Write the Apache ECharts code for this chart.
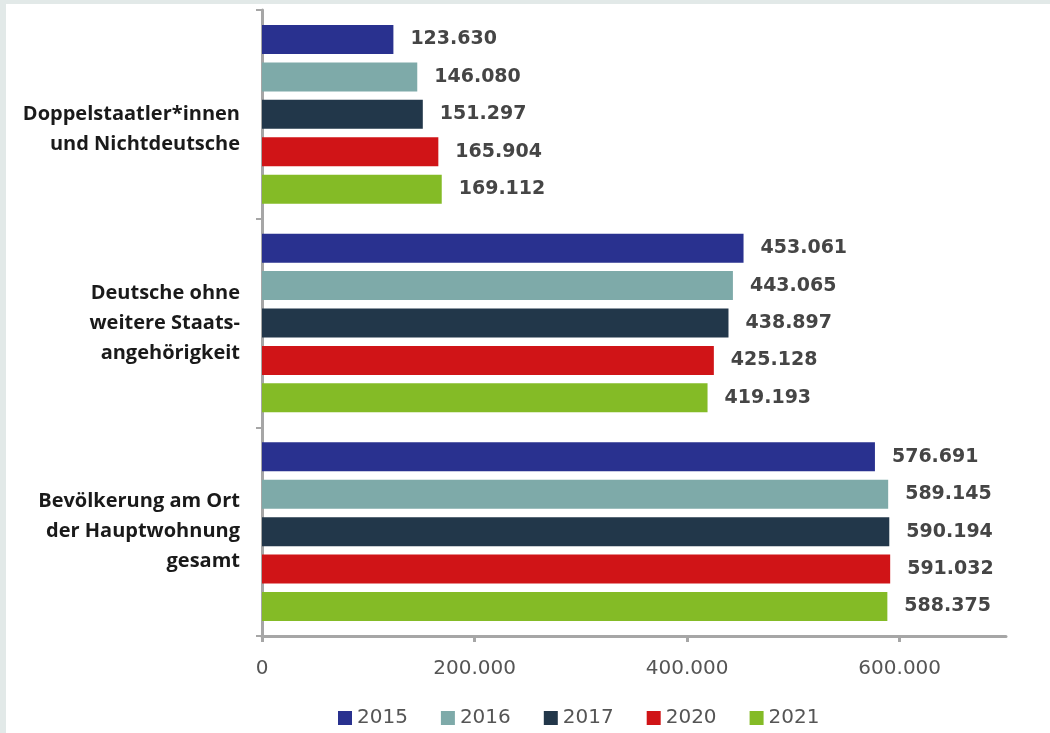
<!DOCTYPE html>
<html>
<head>
<meta charset="utf-8">
<script src="https://cdn.jsdelivr.net/npm/echarts@6/dist/echarts.min.js"></script>
<style>
html, body { margin: 0; padding: 0; background: #e2e9e8; }
#wrap { width: 1050px; height: 733px; box-sizing: border-box; border-top: 4px solid #e2e9e8; border-left: 6px solid #e2e9e8; }
#chart { width: 1044px; height: 729px; background: #fff; }
</style>
</head>
<body>
<div id="wrap"><div id="chart"></div></div>
<script>
var categories = [
	'Doppelstaatler*innen\nund Nichtdeutsche',
	'Deutsche ohne\nweitere Staats-\nangehörigkeit',
	'Bevölkerung am Ort\nder Hauptwohnung\ngesamt'
];
var years = ['2015', '2016', '2017', '2020', '2021'];
var v2015 = [123630, 453061, 576691];
var v2016 = [146080, 443065, 589145];
var v2017 = [151297, 438897, 590194];
var v2020 = [165904, 425128, 591032];
var v2021 = [169112, 419193, 588375];
var xTicks = [0, 200000, 400000, 600000];
var colors = ['#29318f', '#7eaaa9', '#22374a', '#d01417', '#84bb26'];

function fmt(v) {
	return String(v).replace(/\B(?=(\d{3})+(?!\d))/g, '.');
}

var values = [v2015, v2016, v2017, v2020, v2021];
var series = [];
for (var i = 0; i < years.length; i++) {
	series.push({
		type: 'bar',
		name: years[i],
		data: values[i],
		barWidth: 29,
		barGap: '29%',
		itemStyle: { color: colors[i] },
		label: {
			show: true,
			position: 'right',
			distance: 17,
			fontFamily: 'DejaVu Sans',
			fontWeight: 'bold',
			fontSize: 19,
			color: '#454545',
			formatter: function(p) { return fmt(p.value); }
		}
	});
}

echarts.init(document.getElementById('chart')).setOption({
	animation: false,
	color: colors,
	grid: { left: 256, right: 44, top: 6, bottom: 97, containLabel: false },
	legend: {
		data: years,
		left: 327,
		top: 699,
		itemWidth: 14,
		itemHeight: 14,
		itemGap: 33,
		icon: 'rect',
		textStyle: { fontFamily: 'DejaVu Sans', fontSize: 20, color: '#555' }
	},
	xAxis: {
		type: 'value',
		min: 0,
		max: 700000,
		splitLine: { show: false },
		axisLine: { show: true, lineStyle: { color: '#a6a6a6', width: 3 } },
		axisTick: { show: true, length: 6, customValues: xTicks, lineStyle: { color: '#a6a6a6', width: 3 } },
		axisLabel: {
			customValues: xTicks,
			margin: 23,
			fontFamily: 'DejaVu Sans',
			fontSize: 20,
			color: '#555',
			formatter: function(v) { return fmt(v); }
		}
	},
	yAxis: {
		type: 'category',
		data: categories,
		inverse: true,
		axisLine: { show: true, lineStyle: { color: '#a6a6a6', width: 3 } },
		axisTick: { show: true, length: 6, lineStyle: { color: '#a6a6a6', width: 2 } },
		axisLabel: {
			margin: 22,
			align: 'right',
			fontFamily: 'Open Sans',
			fontWeight: 'bold',
			fontSize: 20,
			lineHeight: 30,
			color: '#1a1a1a',
			// erste Kategorie sitzt im Original etwas tiefer
			formatter: function(v, idx) { return idx === 0 ? '\n' + v : v; }
		}
	},
	series: series
});
</script>
</body>
</html>
